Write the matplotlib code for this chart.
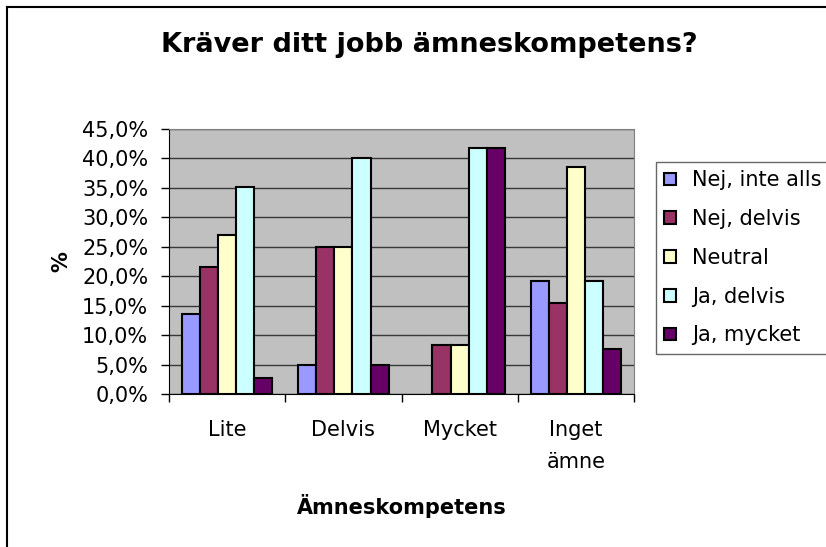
import matplotlib
matplotlib.use("Agg")
import matplotlib.pyplot as plt
from matplotlib.lines import Line2D
from matplotlib.ticker import FuncFormatter, MultipleLocator
import numpy as np

# -----------------------------------------------------------------------------
# Data
# -----------------------------------------------------------------------------

categories = ["Lite", "Delvis", "Mycket", "Inget\nämne"]
series = ["Nej, inte alls", "Nej, delvis", "Neutral", "Ja, delvis", "Ja, mycket"]
nej_inte_alls = [13.5, 5.0, 0.0, 19.2]
nej_delvis    = [21.6, 25.0, 8.3, 15.4]
neutral       = [27.0, 25.0, 8.3, 38.5]
ja_delvis     = [35.1, 40.0, 41.7, 19.2]
ja_mycket     = [2.7, 5.0, 41.7, 7.7]
values = [nej_inte_alls, nej_delvis, neutral, ja_delvis, ja_mycket]
colors = ["#9999FF", "#993366", "#FFFFCC", "#CCFFFF", "#660066"]

# -----------------------------------------------------------------------------
# Plot
# -----------------------------------------------------------------------------

plt.rcParams['font.family'] = ['DejaVu Sans']

fig = plt.figure(figsize = (8.26, 5.47), dpi = 100)
ax = fig.add_axes([0.2046, 0.2797, 0.5630, 0.4845])
ax.set_facecolor("#C0C0C0")

x = np.arange(len(categories))
width = 0.156
for i, (name, vals, col) in enumerate(zip(series, values, colors)):
    lw = [1.5 if v > 0 else 0 for v in vals]
    ax.bar(x + (i - 2) * width, vals, width = width, color = col,
           edgecolor = "black", linewidth = lw, label = name, zorder = 3)

ax.set_xlim(-0.5, 3.5)
ax.set_ylim(0, 45)
ax.yaxis.set_major_locator(MultipleLocator(5))
ax.yaxis.set_major_formatter(FuncFormatter(lambda v, p: ("%.1f%%" % v).replace(".", ",")))
ax.grid(axis = "y", color = "#383838", linewidth = 1.0, zorder = 1)

ax.set_xticks(x)
ax.set_xticklabels(categories, fontsize = 15, linespacing = 1.7)
ax.set_xticks(np.arange(-0.5, 4.0, 1.0), minor = True)
ax.tick_params(axis = "x", which = "major", length = 0, pad = 19)
ax.tick_params(axis = "x", which = "minor", length = 6, width = 1, direction = "out")
ax.tick_params(axis = "y", length = 6, width = 1, labelsize = 15, pad = 9)

for side in ["top", "right"]:
    ax.spines[side].set_color("#808080")
ax.spines["left"].set_color("black")
ax.spines["bottom"].set_color("black")

ax.set_xlabel("Ämneskompetens", fontsize = 15, fontweight = "bold", labelpad = 16)
ax.set_ylabel("%", fontsize = 15, fontweight = "bold", labelpad = 8)

fig.text(0.52, 0.918, "Kräver ditt jobb ämneskompetens?", ha = "center", va = "center",
         fontsize = 19.5, fontweight = "bold")

leg = ax.legend(loc = "upper left", bbox_to_anchor = (0.794, 0.7038),
                bbox_transform = fig.transFigure, fontsize = 15, frameon = True,
                fancybox = False, edgecolor = "#404040", handlelength = 0.55,
                handleheight = 0.55, handletextpad = 0.8, labelspacing = 0.9,
                borderpad = 0.4, borderaxespad = 0)
leg.get_frame().set_linewidth(1.0)

# outer chart frame (left and top edges visible)
fig.add_artist(Line2D([0.0085, 0.0085], [0.0, 0.987], color = "black", linewidth = 1.5,
                      transform = fig.transFigure))
fig.add_artist(Line2D([0.0085, 1.0], [0.987, 0.987], color = "black", linewidth = 1.5,
                      transform = fig.transFigure))

fig.savefig("out.png", dpi = 100)
